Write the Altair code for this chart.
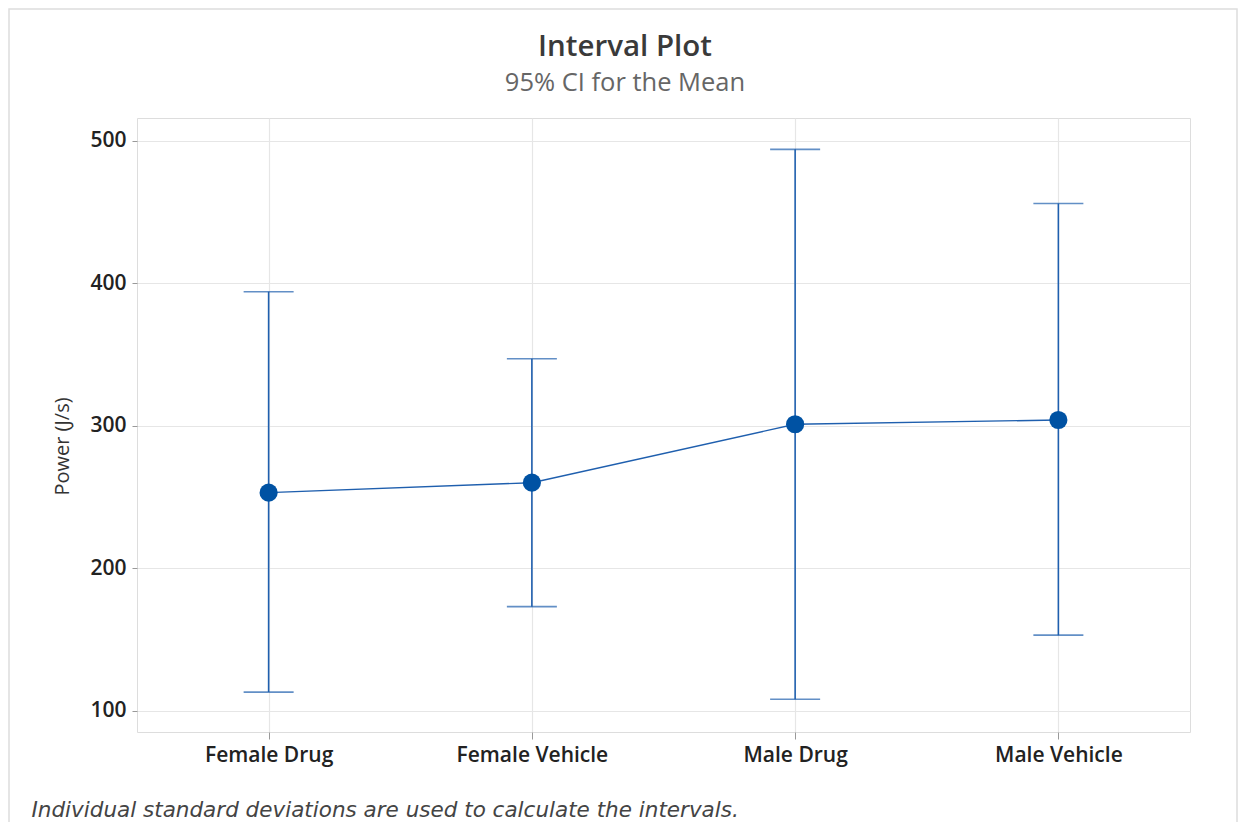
import altair as alt
import pandas as pd

groups = ["Female Drug", "Female Vehicle", "Male Drug", "Male Vehicle"]
means = [253, 260, 301, 304]
lower = [113, 173, 108, 153]
upper = [394, 347, 494, 456]
y_ticks = [100, 200, 300, 400, 500]

df = pd.DataFrame({"group": groups, "mean": means, "lower": lower, "upper": upper})

BLUE = "#1f5fae"
DOT = "#0052a3"
FONT = "Open Sans"
title_text = "Interval Plot"
subtitle_text = "95% CI for the Mean"
footnote = "Individual standard deviations are used to calculate the intervals."

xenc = alt.X(
    "group:N",
    sort=groups,
    scale=alt.Scale(type="point", padding=0.5),
    axis=alt.Axis(
        title=footnote,
        titleFont="DejaVu Sans",
        titleFontSize=21.5,
        titleFontStyle="italic",
        titleFontWeight="normal",
        titleColor="#444",
        titleAnchor="start",
        titleAlign="left",
        titleX=-106,
        titleY=84,
        titleBaseline="alphabetic",
        labelFont=FONT,
        labelFontSize=21,
        labelFontWeight=600,
        labelColor="#222",
        labelAngle=0,
        labelPadding=5,
        tickColor="#999",
        tickSize=7,
        domain=False,
        grid=True,
        gridColor="#e6e6e6",
        gridWidth=1.2,
    ),
)

yscale = alt.Scale(domain=[85, 516], nice=False, zero=False)
yaxis = alt.Axis(
    title="Power (J/s)",
    titleFont=FONT,
    titleFontSize=20,
    titleFontWeight="normal",
    titleColor="#333",
    titleX=-75,
    titleY=328,
    titleAngle=-90,
    titleAlign="center",
    titleBaseline="middle",
    values=y_ticks,
    labelFont=FONT,
    labelFontSize=21,
    labelFontWeight=600,
    labelColor="#222",
    labelPadding=6,
    tickColor="#999",
    tickSize=5,
    domain=False,
    grid=True,
    gridColor="#e6e6e6",
    gridWidth=1.2,
)

base = alt.Chart(df)

rules = base.mark_rule(color=BLUE, strokeWidth=1.6).encode(
    x=xenc,
    y=alt.Y("lower:Q", scale=yscale, axis=yaxis),
    y2="upper:Q",
)
caps_hi = base.mark_tick(color=BLUE, size=50, thickness=1.6).encode(
    x=alt.X("group:N", sort=groups), y=alt.Y("upper:Q")
)
caps_lo = base.mark_tick(color=BLUE, size=50, thickness=1.6).encode(
    x=alt.X("group:N", sort=groups), y=alt.Y("lower:Q")
)
line = base.mark_line(color=BLUE, strokeWidth=1.4).encode(
    x=alt.X("group:N", sort=groups), y=alt.Y("mean:Q")
)
points = base.mark_circle(color=DOT, opacity=1, size=330).encode(
    x=alt.X("group:N", sort=groups), y=alt.Y("mean:Q")
)

one = pd.DataFrame({"f": [0]})
frame = alt.Chart(one).mark_rect(
    fill=None, stroke="#dddddd", strokeWidth=1.5
).encode(
    x=alt.value(-128), x2=alt.value(1100), y=alt.value(-109), y2=alt.value(720)
)
title_mark = alt.Chart(one).mark_text(
    text=title_text, font=FONT, fontSize=29.5, fontWeight=600, color="#3a3a3a",
    align="center", baseline="alphabetic"
).encode(x=alt.value(488), y=alt.value(-62))
subtitle_mark = alt.Chart(one).mark_text(
    text=subtitle_text, font=FONT, fontSize=25.5, fontWeight="normal", color="#666",
    align="center", baseline="alphabetic"
).encode(x=alt.value(488), y=alt.value(-27))

chart = alt.layer(frame, title_mark, subtitle_mark, rules, caps_hi, caps_lo, line, points).properties(
    width=1053,
    height=614,
    autosize=alt.AutoSizeParams(type="none"),
    padding={"left": 129, "top": 110, "right": 48, "bottom": 90},
).configure_view(stroke="#8c8c8c", strokeWidth=1.5).configure(background="white")

chart.save("out.html", embed_options={"renderer": "svg", "actions": False})
